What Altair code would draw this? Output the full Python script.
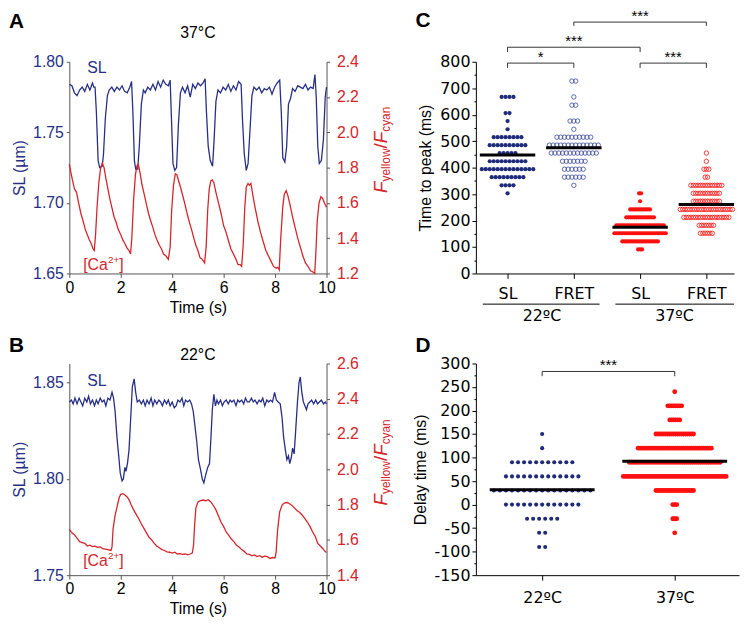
import altair as alt
import pandas as pd

NAVY = "#262f86"
RED = "#d4252b"
DOT_BLUE = "#1f2a7a"
OPEN_BLUE = "#3c4897"
DOT_RED = "#ff1010"
AXC = "#555555"
FONT = "Liberation Sans"
WFONT = "DejaVu Sans"

# ---------------- data: panel A (37 °C) ----------------
a_sl = [(0.00, 1.784), (0.10, 1.783), (0.20, 1.778), (0.30, 1.776), (0.40, 1.780), (0.50, 1.782),
        (0.60, 1.779), (0.70, 1.784), (0.80, 1.780), (0.90, 1.785), (0.95, 1.782), (1.00, 1.782),
        (1.05, 1.765), (1.12, 1.730), (1.18, 1.725), (1.28, 1.726), (1.33, 1.735), (1.40, 1.760),
        (1.48, 1.776), (1.55, 1.780), (1.65, 1.782), (1.75, 1.779), (1.85, 1.782), (1.95, 1.780),
        (2.05, 1.783), (2.15, 1.779), (2.25, 1.778), (2.35, 1.782), (2.42, 1.786), (2.47, 1.765),
        (2.53, 1.730), (2.58, 1.724), (2.66, 1.724), (2.72, 1.740), (2.80, 1.770), (2.88, 1.780),
        (2.95, 1.778), (3.05, 1.782), (3.15, 1.780), (3.25, 1.784), (3.35, 1.780), (3.45, 1.786),
        (3.55, 1.782), (3.65, 1.787), (3.75, 1.784), (3.85, 1.783), (3.92, 1.787), (3.97, 1.760),
        (4.03, 1.728), (4.10, 1.723), (4.17, 1.725), (4.24, 1.755), (4.32, 1.778), (4.40, 1.782),
        (4.50, 1.778), (4.60, 1.783), (4.70, 1.775), (4.80, 1.784), (4.90, 1.781), (5.00, 1.785),
        (5.10, 1.783), (5.20, 1.785), (5.28, 1.788), (5.33, 1.765), (5.40, 1.740), (5.48, 1.730),
        (5.57, 1.726), (5.63, 1.745), (5.70, 1.772), (5.78, 1.780), (5.88, 1.778), (5.98, 1.782),
        (6.08, 1.780), (6.18, 1.784), (6.28, 1.779), (6.38, 1.783), (6.48, 1.780), (6.58, 1.786),
        (6.68, 1.784), (6.73, 1.760), (6.80, 1.735), (6.88, 1.723), (6.95, 1.728), (7.02, 1.750),
        (7.10, 1.776), (7.18, 1.782), (7.28, 1.780), (7.38, 1.782), (7.48, 1.778), (7.58, 1.781),
        (7.68, 1.780), (7.78, 1.782), (7.88, 1.777), (7.98, 1.782), (8.08, 1.785), (8.18, 1.787),
        (8.24, 1.765), (8.30, 1.732), (8.38, 1.729), (8.45, 1.740), (8.52, 1.770), (8.60, 1.774),
        (8.68, 1.781), (8.78, 1.779), (8.88, 1.783), (8.98, 1.782), (9.08, 1.781), (9.18, 1.784),
        (9.28, 1.780), (9.38, 1.782), (9.48, 1.781), (9.55, 1.791), (9.60, 1.775), (9.66, 1.740),
        (9.72, 1.728), (9.80, 1.730), (9.88, 1.745), (9.95, 1.775), (10.00, 1.782)]

a_ca = [(0.00, 1.82), (0.05, 1.78), (0.12, 1.73), (0.20, 1.68), (0.28, 1.66), (0.36, 1.60),
        (0.45, 1.54), (0.53, 1.50), (0.62, 1.45), (0.70, 1.42), (0.78, 1.39), (0.85, 1.37),
        (0.92, 1.34), (0.97, 1.33), (1.02, 1.42), (1.08, 1.58), (1.15, 1.72), (1.22, 1.80),
        (1.28, 1.826), (1.35, 1.80), (1.42, 1.74), (1.50, 1.68), (1.58, 1.62), (1.66, 1.57),
        (1.74, 1.52), (1.82, 1.49), (1.90, 1.45), (2.00, 1.42), (2.08, 1.39), (2.16, 1.37),
        (2.24, 1.345), (2.32, 1.33), (2.38, 1.31), (2.43, 1.40), (2.50, 1.62), (2.57, 1.76),
        (2.63, 1.81), (2.68, 1.82), (2.75, 1.77), (2.83, 1.70), (2.91, 1.65), (3.00, 1.59),
        (3.08, 1.54), (3.16, 1.50), (3.25, 1.46), (3.33, 1.42), (3.41, 1.39), (3.50, 1.36),
        (3.58, 1.34), (3.66, 1.31), (3.75, 1.30), (3.85, 1.28), (3.92, 1.35), (3.98, 1.56),
        (4.05, 1.70), (4.12, 1.765), (4.18, 1.76), (4.26, 1.72), (4.34, 1.68), (4.42, 1.635),
        (4.50, 1.59), (4.58, 1.54), (4.67, 1.49), (4.75, 1.45), (4.84, 1.40), (4.92, 1.36),
        (5.00, 1.33), (5.08, 1.29), (5.17, 1.28), (5.26, 1.26), (5.32, 1.35), (5.38, 1.56),
        (5.44, 1.68), (5.50, 1.725), (5.56, 1.73), (5.62, 1.715), (5.70, 1.66), (5.80, 1.60),
        (5.90, 1.54), (6.00, 1.47), (6.08, 1.44), (6.18, 1.39), (6.28, 1.34), (6.38, 1.31),
        (6.48, 1.28), (6.56, 1.25), (6.64, 1.25), (6.70, 1.24), (6.76, 1.36), (6.82, 1.57),
        (6.88, 1.69), (6.95, 1.71), (7.00, 1.70), (7.06, 1.71), (7.14, 1.64), (7.24, 1.56),
        (7.34, 1.49), (7.44, 1.43), (7.54, 1.38), (7.64, 1.33), (7.74, 1.30), (7.84, 1.27),
        (7.94, 1.24), (8.04, 1.23), (8.10, 1.235), (8.16, 1.22), (8.22, 1.40), (8.30, 1.58),
        (8.36, 1.65), (8.43, 1.67), (8.50, 1.64), (8.58, 1.59), (8.68, 1.52), (8.78, 1.46),
        (8.88, 1.40), (8.98, 1.35), (9.08, 1.30), (9.18, 1.26), (9.28, 1.24), (9.38, 1.215),
        (9.46, 1.21), (9.54, 1.20), (9.58, 1.30), (9.64, 1.50), (9.71, 1.60), (9.78, 1.635),
        (9.85, 1.625), (9.92, 1.60), (10.00, 1.575)]

# ---------------- data: panel B (22 °C) ----------------
b_sl = [(0.00, 1.840), (0.08, 1.841), (0.15, 1.839), (0.22, 1.842), (0.30, 1.839), (0.38, 1.842),
        (0.45, 1.840), (0.52, 1.838), (0.60, 1.842), (0.68, 1.840), (0.75, 1.843), (0.82, 1.839),
        (0.90, 1.841), (0.98, 1.838), (1.05, 1.841), (1.12, 1.839), (1.20, 1.842), (1.28, 1.840),
        (1.35, 1.841), (1.42, 1.838), (1.50, 1.842), (1.58, 1.841), (1.66, 1.845), (1.72, 1.842),
        (1.78, 1.835), (1.85, 1.822), (1.92, 1.812), (1.98, 1.803), (2.05, 1.799), (2.10, 1.800),
        (2.16, 1.806), (2.20, 1.804), (2.26, 1.808), (2.32, 1.815), (2.38, 1.830), (2.45, 1.848),
        (2.52, 1.852), (2.58, 1.845), (2.64, 1.840), (2.72, 1.841), (2.80, 1.839), (2.88, 1.841),
        (2.95, 1.838), (3.02, 1.841), (3.10, 1.839), (3.18, 1.842), (3.25, 1.838), (3.32, 1.841),
        (3.40, 1.839), (3.48, 1.841), (3.55, 1.840), (3.62, 1.838), (3.70, 1.841), (3.78, 1.839),
        (3.85, 1.841), (3.92, 1.838), (4.00, 1.840), (4.08, 1.837), (4.15, 1.838), (4.22, 1.841),
        (4.30, 1.840), (4.38, 1.842), (4.45, 1.838), (4.52, 1.841), (4.60, 1.840), (4.68, 1.841),
        (4.75, 1.839), (4.82, 1.835), (4.88, 1.828), (4.95, 1.820), (5.02, 1.810), (5.10, 1.805),
        (5.17, 1.800), (5.23, 1.798), (5.30, 1.802), (5.38, 1.806), (5.45, 1.808), (5.50, 1.820),
        (5.56, 1.836), (5.62, 1.844), (5.68, 1.838), (5.74, 1.841), (5.80, 1.839), (5.88, 1.841),
        (5.95, 1.838), (6.02, 1.840), (6.10, 1.841), (6.18, 1.839), (6.25, 1.841), (6.32, 1.840),
        (6.40, 1.841), (6.48, 1.838), (6.55, 1.841), (6.62, 1.840), (6.70, 1.841), (6.78, 1.839),
        (6.85, 1.842), (6.92, 1.840), (7.00, 1.840), (7.08, 1.842), (7.15, 1.840), (7.22, 1.841),
        (7.30, 1.839), (7.38, 1.841), (7.45, 1.840), (7.52, 1.842), (7.60, 1.838), (7.68, 1.841),
        (7.75, 1.840), (7.82, 1.841), (7.90, 1.840), (7.98, 1.845), (8.05, 1.841), (8.12, 1.840),
        (8.20, 1.839), (8.27, 1.832), (8.33, 1.822), (8.40, 1.815), (8.46, 1.810), (8.52, 1.812),
        (8.57, 1.808), (8.63, 1.811), (8.68, 1.816), (8.74, 1.813), (8.80, 1.825), (8.87, 1.840),
        (8.93, 1.850), (8.98, 1.853), (9.04, 1.845), (9.10, 1.840), (9.16, 1.838), (9.22, 1.836),
        (9.28, 1.839), (9.35, 1.840), (9.42, 1.841), (9.50, 1.839), (9.58, 1.841), (9.65, 1.839),
        (9.72, 1.840), (9.80, 1.841), (9.88, 1.839), (9.95, 1.840), (10.00, 1.839)]

b_ca = [(0.00, 1.66), (0.10, 1.64), (0.20, 1.63), (0.30, 1.61), (0.40, 1.59), (0.50, 1.585),
        (0.60, 1.58), (0.70, 1.565), (0.80, 1.57), (0.90, 1.562), (1.00, 1.565), (1.10, 1.558),
        (1.20, 1.56), (1.30, 1.55), (1.40, 1.548), (1.50, 1.545), (1.62, 1.54), (1.66, 1.56),
        (1.70, 1.66), (1.78, 1.74), (1.86, 1.79), (1.94, 1.84), (2.00, 1.858), (2.08, 1.862),
        (2.16, 1.855), (2.24, 1.845), (2.32, 1.828), (2.40, 1.80), (2.50, 1.77), (2.60, 1.745),
        (2.70, 1.72), (2.80, 1.69), (2.90, 1.665), (3.00, 1.64), (3.10, 1.615), (3.20, 1.60),
        (3.30, 1.58), (3.40, 1.565), (3.50, 1.555), (3.60, 1.545), (3.70, 1.54), (3.80, 1.532),
        (3.90, 1.53), (4.00, 1.525), (4.10, 1.53), (4.20, 1.52), (4.30, 1.522), (4.40, 1.518),
        (4.50, 1.52), (4.60, 1.515), (4.70, 1.52), (4.78, 1.525), (4.83, 1.57), (4.87, 1.68),
        (4.92, 1.78), (5.00, 1.815), (5.10, 1.822), (5.20, 1.826), (5.30, 1.822), (5.40, 1.828),
        (5.50, 1.815), (5.60, 1.795), (5.70, 1.77), (5.80, 1.735), (5.90, 1.70), (6.00, 1.675),
        (6.10, 1.645), (6.20, 1.625), (6.30, 1.605), (6.40, 1.59), (6.50, 1.57), (6.60, 1.56),
        (6.70, 1.545), (6.80, 1.535), (6.90, 1.52), (7.00, 1.518), (7.10, 1.51), (7.20, 1.515),
        (7.30, 1.505), (7.40, 1.51), (7.50, 1.502), (7.60, 1.508), (7.70, 1.505), (7.80, 1.495),
        (7.90, 1.50), (8.00, 1.498), (8.04, 1.53), (8.10, 1.66), (8.18, 1.76), (8.28, 1.80),
        (8.38, 1.81), (8.48, 1.812), (8.56, 1.805), (8.66, 1.795), (8.76, 1.78), (8.86, 1.765),
        (8.96, 1.755), (9.06, 1.74), (9.16, 1.72), (9.26, 1.70), (9.36, 1.675), (9.46, 1.645),
        (9.56, 1.62), (9.66, 1.58), (9.76, 1.565), (9.86, 1.55), (9.94, 1.535), (10.00, 1.528)]

# ---------------- data: panel C (time to peak, ms) ----------------
c_categories = ["SL", "FRET", "SL", "FRET"]
c_groups = ["22ºC", "37ºC"]
c_sl22_vals = [667, 606, 576, 545, 515, 485, 455, 424, 394, 364, 333, 303]
c_sl22_counts = [4, 2, 1, 1, 8, 10, 5, 10, 14, 9, 4, 1]
c_fret22_vals = [727, 667, 636, 576, 545, 515, 485, 455, 424, 394, 364, 333]
c_fret22_counts = [2, 1, 2, 3, 1, 10, 14, 13, 7, 6, 6, 1]
c_sl37_vals = [303, 273, 242, 212, 182, 152, 121, 91]
c_sl37_counts = [2, 1, 11, 15, 25, 27, 19, 3]
c_fret37_vals = [455, 424, 394, 364, 333, 303, 273, 242, 212, 182, 152]
c_fret37_counts = [1, 1, 3, 2, 14, 12, 12, 23, 20, 7, 6]

# ---------------- data: panel D (delay time, ms) ----------------
d_categories = ["22ºC", "37ºC"]
d_22_vals = [150, 120, 90, 60, 30, 0, -30, -60, -90]
d_22_counts = [1, 1, 11, 13, 17, 13, 6, 2, 2]
d_37_vals = [240, 210, 180, 150, 120, 90, 60, 30, 0, -30, -60]
d_37_counts = [1, 8, 6, 20, 38, 47, 53, 20, 3, 3, 1]

# ---------------- layout constants ----------------
AW, AH = 260, 214
CW, CH = 261, 214
DW, DH = 266, 214
PAD_L, PAD_T = 62, 51
SVG_W, SVG_H = 741, 616


def txt(s, x, y, size=16, color="black", font=FONT, weight="normal", style="normal",
        angle=0, align="left", baseline="alphabetic"):
    return alt.Chart(pd.DataFrame({"s": [s]})).mark_text(
        font=font, fontSize=size, color=color, fontWeight=weight, fontStyle=style,
        angle=angle, align=align, baseline=baseline
    ).encode(text="s:N", x=alt.value(x), y=alt.value(y))


def ratio_label(center_y, xbase):
    big, small = 19, 12
    lens = [0.611 * big, 2.778 * small, 0.278 * big, 0.611 * big, 2.112 * small]
    total = sum(lens)
    bottom = center_y + total / 2
    pieces = [("F", big, "italic", 0), ("yellow", small, "normal", 3.5),
              ("/", big, "normal", 0), ("F", big, "italic", 0), ("cyan", small, "normal", 3.5)]
    out = []
    pos = bottom
    for (s, sz, st, sh), ln in zip(pieces, lens):
        out.append(txt(s, xbase + sh, pos - ln / 2, size=sz, color=RED, style=st,
                       angle=270, align="center", baseline="alphabetic"))
        pos -= ln
    return out


def trace_panel(sl, ca, left_dom, left_vals, right_dom, right_vals, title, title_y,
                letter, letter_y, sl_y, ca_y, ratio_c):
    sl_df = pd.DataFrame(sl, columns=["t", "v"])
    ca_df = pd.DataFrame(ca, columns=["t", "v"])
    xenc = alt.X("t:Q", scale=alt.Scale(domain=[0, 10], nice=False, zero=False),
                 axis=alt.Axis(values=[0, 2, 4, 6, 8, 10], title="Time (s)", tickSize=4,
                               labelPadding=2, titlePadding=4, labelFont=FONT, labelFontSize=16,
                               titleFont=FONT, titleFontSize=16, titleFontWeight="normal",
                               labelColor="black", titleColor="black", domainColor=AXC,
                               tickColor=AXC, labelFlush=False, labelOverlap=False, grid=False))
    sl_line = alt.Chart(sl_df).mark_line(color=NAVY, strokeWidth=1.3).encode(
        x=xenc,
        y=alt.Y("v:Q", scale=alt.Scale(domain=left_dom, nice=False, zero=False),
                axis=alt.Axis(orient="left", values=left_vals, format=".2f", title="SL (µm)",
                              tickSize=3, labelPadding=3, titlePadding=5, labelFont=FONT,
                              labelFontSize=16, titleFont=FONT, titleFontSize=16,
                              titleFontWeight="normal", labelColor=NAVY, titleColor=NAVY,
                              domainColor=AXC, tickColor=AXC, labelOverlap=False, grid=False)))
    ca_line = alt.Chart(ca_df).mark_line(color=RED, strokeWidth=1.3).encode(
        x=alt.X("t:Q"),
        y=alt.Y("v:Q", scale=alt.Scale(domain=right_dom, nice=False, zero=False),
                axis=alt.Axis(orient="right", values=right_vals, format=".1f", title=None,
                              tickSize=3, labelPadding=7, labelFont=FONT, labelFontSize=16,
                              labelColor=RED, domainColor=AXC, tickColor=AXC,
                              labelOverlap=False, grid=False)))
    annots = [
        txt(title, AW / 2, title_y, size=16, align="center", baseline="middle"),
        txt(letter, -61, letter_y, size=21, weight="bold", baseline="top"),
        txt("SL", 18, sl_y, size=16, color=NAVY, baseline="middle"),
        txt("[Ca", 14, ca_y, size=16, color=RED, baseline="middle"),
        txt("2+", 39, ca_y - 5, size=10, color=RED, baseline="middle"),
        txt("]", 50.5, ca_y, size=16, color=RED, baseline="middle"),
    ] + ratio_label(ratio_c, AW + 61)
    return alt.layer(sl_line, ca_line, *annots).resolve_scale(y="independent").properties(
        width=AW, height=AH)


def swarm(vals, counts, idx, spacing_px, px_per_unit):
    rows = []
    for v, n in zip(vals, counts):
        for i in range(n):
            rows.append({"x": idx + (i - (n - 1) / 2) * spacing_px / px_per_unit, "y": v})
    return pd.DataFrame(rows)


def dot_panel(groups, xdom, ydom, yvals, major, ytitle, xlabels, width, height, ppu,
              half_line, brackets, letter, letter_y, extra, xlabpad):
    xs = alt.Scale(domain=xdom, nice=False, zero=False)
    ys = alt.Scale(domain=ydom, nice=False, zero=False)
    lab_arr = "[" + ",".join("'" + s + "'" for s in xlabels) + "]"
    xaxis = alt.Axis(values=list(range(1, len(xlabels) + 1)),
                     labelExpr=lab_arr + "[datum.value - 1]", tickSize=5, labelPadding=xlabpad,
                     labelFont=WFONT, labelFontSize=16, labelColor="black", domainColor="black",
                     tickColor="black", title=None, labelFlush=False, labelOverlap=False, grid=False)
    yaxis = alt.Axis(values=yvals,
                     labelExpr="datum.value % " + str(major) + " == 0 ? '' + datum.value : ''",
                     tickSize={"condition": {"test": "datum.value % " + str(major) + " != 0",
                                             "value": 2}, "value": 4},
                     labelPadding=2, labelFont=WFONT, labelFontSize=16, labelColor="black",
                     title=ytitle, titleFont=FONT, titleFontSize=16, titleFontWeight="normal",
                     titleColor="black", titlePadding=6, domainColor="black", tickColor="black",
                     labelOverlap=False, labelFlush=False, grid=False)
    X = alt.X("x:Q", scale=xs, axis=xaxis)
    Y = alt.Y("y:Q", scale=ys, axis=yaxis)
    layers = []
    means = []
    for df, idx, filled, color, size in groups:
        if filled:
            m = alt.Chart(df).mark_circle(size=size, color=color, opacity=1)
        else:
            m = alt.Chart(df).mark_point(shape="circle", filled=False, size=size, color=color,
                                         strokeWidth=0.8, opacity=1)
        layers.append(m.encode(x=X, y=Y))
        means.append({"x": idx - half_line, "x2": idx + half_line, "y": df["y"].mean()})
    mean_df = pd.DataFrame(means)
    layers.append(alt.Chart(mean_df).mark_rule(color="black", strokeWidth=3).encode(
        x=X, x2="x2:Q", y=Y))
    segs = []
    stars = []
    for x1, x2, top, bot, lab in brackets:
        segs += [{"x": x1, "x2": x2, "y": top, "y2": top},
                 {"x": x1, "x2": x1, "y": top, "y2": bot},
                 {"x": x2, "x2": x2, "y": top, "y2": bot}]
        stars.append({"x": (x1 + x2) / 2, "y": top, "s": lab})
    layers.append(alt.Chart(pd.DataFrame(segs)).mark_rule(color="#333333", strokeWidth=1).encode(
        x=X, x2="x2:Q", y=Y, y2="y2:Q"))
    layers.append(alt.Chart(pd.DataFrame(stars)).mark_text(
        font=FONT, fontSize=15, color="black", baseline="middle", dy=-6).encode(
        x=X, y=Y, text="s:N"))
    layers.append(txt(letter, -61, letter_y, size=21, weight="bold", baseline="top"))
    layers += extra(X)
    return alt.layer(*layers).properties(width=width, height=height)


# ---------------- panel A / B ----------------
panel_a = trace_panel(a_sl, a_ca, [1.65, 1.80], [1.65, 1.70, 1.75, 1.80], [1.2, 2.4],
                      [1.2, 1.4, 1.6, 1.8, 2.0, 2.2, 2.4], "37°C", -29, "A", -51, 6, 205, 89)
panel_b = trace_panel(b_sl, b_ca, [1.75, 1.86], [1.75, 1.80, 1.85], [1.4, 2.6],
                      [1.4, 1.6, 1.8, 2.0, 2.2, 2.4, 2.6], "22°C", -9, "B", -29, 18, 200, 100)

# ---------------- panel C ----------------
C_PPU = 67.0
c_xdom = [1 - 32 / C_PPU, 1 - 32 / C_PPU + CW / C_PPU]
c_groups_data = [
    (swarm(c_sl22_vals, c_sl22_counts, 1, 4.0, C_PPU), 1, True, DOT_BLUE, 18),
    (swarm(c_fret22_vals, c_fret22_counts, 2, 3.8, C_PPU), 2, False, OPEN_BLUE, 20),
    (swarm(c_sl37_vals, c_sl37_counts, 3, 2.0, C_PPU), 3, True, DOT_RED, 18),
    (swarm(c_fret37_vals, c_fret37_counts, 4, 2.4, C_PPU), 4, False, DOT_RED, 20),
]
c_brackets = [(1, 2, 795, 777, "*"), (1, 3, 855, 837, "***"), (2, 4, 950, 936, "***"),
              (3, 4, 795, 777, "***")]


def c_extra(X):
    g = pd.DataFrame({"x": [c_xdom[0] + 7 / C_PPU, 2.627],
                      "x2": [2.388, c_xdom[1]], "s": c_groups, "m": [1.52, 3.52]})
    lines = alt.Chart(g).mark_rule(color="black", strokeWidth=1).encode(
        x=X, x2="x2:Q", y=alt.value(CH + 31))
    labs = alt.Chart(g).mark_text(font=WFONT, fontSize=16, color="black", baseline="middle").encode(
        x=alt.X("m:Q", scale=alt.Scale(domain=c_xdom, nice=False, zero=False)),
        y=alt.value(CH + 43), text="s:N")
    return [lines, labs]


panel_c = dot_panel(c_groups_data, c_xdom, [0, 800], list(range(0, 801, 50)), 100,
                    "Time to peak (ms)", c_categories, CW, CH, C_PPU, 28 / C_PPU,
                    c_brackets, "C", -52, c_extra, 7)

# ---------------- panel D ----------------
D_PPU = 134.0
d_xdom = [1 - 67 / D_PPU, 1 - 67 / D_PPU + DW / D_PPU]
d_groups_data = [
    (swarm(d_22_vals, d_22_counts, 1, 6.1, D_PPU), 1, True, DOT_BLUE, 17),
    (swarm(d_37_vals, d_37_counts, 2, 2.0, D_PPU), 2, True, DOT_RED, 24),
]
d_brackets = [(1, 2, 283, 273, "***")]

panel_d = dot_panel(d_groups_data, d_xdom, [-150, 300], list(range(-150, 301, 25)), 50,
                    "Delay time (ms)", d_categories, DW, DH, D_PPU, 53 / D_PPU,
                    d_brackets, "D", -29, lambda X: [], 10)

chart = alt.concat(panel_a, panel_c, panel_b, panel_d, columns=2,
                   spacing={"row": 91, "column": 151}, bounds="flush", align="each").properties(
    autosize=alt.AutoSizeParams(type="none"),
    padding={"left": PAD_L, "top": PAD_T, "right": SVG_W - PAD_L, "bottom": SVG_H - PAD_T}
).configure_view(stroke=None).configure_axis(grid=False)

chart.save("out.html", embed_options={"renderer": "svg", "actions": False})
